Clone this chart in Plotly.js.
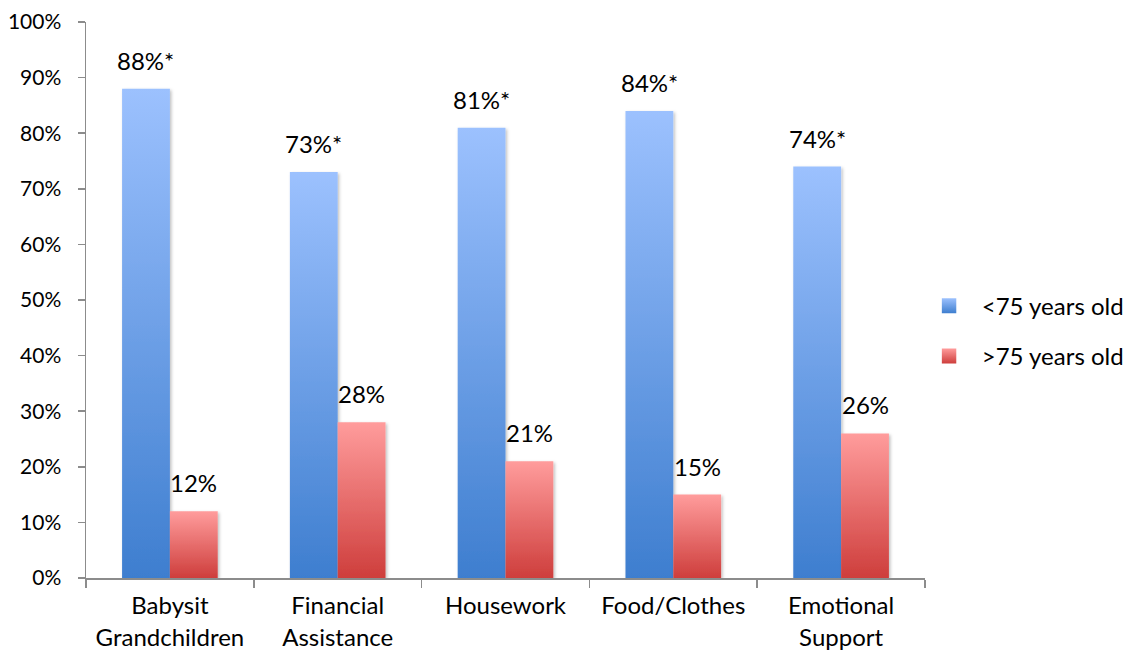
<!DOCTYPE html>
<html>
<head>
<meta charset="utf-8">
<script src="https://cdn.plot.ly/plotly-3.0.1.min.js"></script>
<style>
html,body{margin:0;padding:0;background:#fff;}
#chart{width:1141px;height:658px;}
</style>
</head>
<body>
<div id="chart"></div>
<script>
var categories = ["Babysit<br>Grandchildren", "Financial<br>Assistance", "Housework", "Food/Clothes", "Emotional<br>Support"];
var seriesNames = ["<75 years old", ">75 years old"];
var under75 = [88, 73, 81, 84, 74];
var over75 = [12, 28, 21, 15, 26];
var under75Labels = ["88%*", "73%*", "81%*", "84%*", "74%*"];
var over75Labels = ["12%", "28%", "21%", "15%", "26%"];
var yTickVals = [0, 10, 20, 30, 40, 50, 60, 70, 80, 90, 100];
var yTickText = ["0%", "10%", "20%", "30%", "40%", "50%", "60%", "70%", "80%", "90%", "100%"];

var FONT = "Lato, 'Open Sans', sans-serif";
var FS = 24;
var axisColor = "#8c8c8c";

var traces = [
  {type: "bar", name: seriesNames[0], x: categories, y: under75,
   marker: {color: "#6a9be6"}, legendgroup: "a", hoverinfo: "y"},
  {type: "bar", name: seriesNames[1], x: categories, y: over75,
   marker: {color: "#e87474"}, legendgroup: "b", hoverinfo: "y"}
];

var halfBar = 0.285 / 2;
var annotations = [];
categories.forEach(function(c, i) {
  annotations.push({x: i - halfBar, y: under75[i], xref: "x", yref: "y", text: under75Labels[i],
    showarrow: false, yanchor: "bottom", yshift: 12, font: {family: FONT, size: FS, color: "#000"}});
  annotations.push({x: i + halfBar, y: over75[i], xref: "x", yref: "y", text: over75Labels[i],
    showarrow: false, yanchor: "bottom", yshift: 12, font: {family: FONT, size: FS, color: "#000"}});
});

var layout = {
  width: 1141, height: 658,
  margin: {l: 86, r: 211, t: 22, b: 80, pad: 0},
  paper_bgcolor: "#fff", plot_bgcolor: "#fff",
  barmode: "group", bargap: 0.43, bargroupgap: 0,
  font: {family: FONT, size: FS, color: "#000"},
  showlegend: true,
  legend: {x: 1.020, xanchor: "left", y: 0.444, yanchor: "middle",
    font: {family: FONT, size: FS, color: "#000"}, tracegroupgap: 16,
    itemwidth: 30, bgcolor: "rgba(0,0,0,0)"},
  xaxis: {type: "category", showline: true, linecolor: axisColor, linewidth: 1.5,
    ticks: "outside", tickson: "boundaries", ticklen: 8, tickcolor: axisColor, tickwidth: 1.5,
    showgrid: false, zeroline: false, ticklabelstandoff: 6,
    tickfont: {family: FONT, size: FS, color: "#000"}},
  yaxis: {range: [0, 100], tickmode: "array", tickvals: yTickVals, ticktext: yTickText, showline: true,
    linecolor: axisColor, linewidth: 1.5, ticks: "outside", ticklen: 7, tickcolor: axisColor, tickwidth: 1.5,
    showgrid: false, zeroline: false, ticklabelstandoff: 12,
    tickfont: {family: FONT, size: 21, color: "#000"}},
  annotations: annotations
};

Plotly.newPlot("chart", traces, layout, {displayModeBar: false, staticPlot: true}).then(function(gd) {
  var svg = gd.querySelector(".main-svg");
  var ns = "http://www.w3.org/2000/svg";
  var defs = document.createElementNS(ns, "defs");
  function grad(id, top, bottom) {
    var g = document.createElementNS(ns, "linearGradient");
    g.setAttribute("id", id);
    g.setAttribute("x1", "0"); g.setAttribute("y1", "0");
    g.setAttribute("x2", "0"); g.setAttribute("y2", "1");
    [[0, top], [1, bottom]].forEach(function(s) {
      var st = document.createElementNS(ns, "stop");
      st.setAttribute("offset", s[0]);
      st.setAttribute("stop-color", s[1]);
      g.appendChild(st);
    });
    defs.appendChild(g);
  }
  grad("gradBlue", "#9cc1fe", "#3e7ecf");
  grad("gradRed", "#ff9c9c", "#ce3e3c");
  var f = document.createElementNS(ns, "filter");
  f.setAttribute("id", "barShadow");
  f.setAttribute("x", "-20%"); f.setAttribute("y", "-20%");
  f.setAttribute("width", "140%"); f.setAttribute("height", "140%");
  var ds = document.createElementNS(ns, "feDropShadow");
  ds.setAttribute("dx", "1.5"); ds.setAttribute("dy", "1.5");
  ds.setAttribute("stdDeviation", "1.5");
  ds.setAttribute("flood-color", "#000"); ds.setAttribute("flood-opacity", "0.25");
  f.appendChild(ds);
  defs.appendChild(f);
  svg.insertBefore(defs, svg.firstChild);
  var ids = ["gradBlue", "gradRed"];
  gd.querySelectorAll(".barlayer .trace").forEach(function(t, i) {
    t.querySelectorAll(".point path").forEach(function(p) {
      p.style.fill = "url(#" + ids[i] + ")";
      p.style.filter = "url(#barShadow)";
    });
  });
  gd.querySelectorAll(".legend .traces").forEach(function(t, i) {
    t.querySelectorAll(".legendpoints path").forEach(function(p) {
      p.style.fill = "url(#" + ids[i] + ")";
      p.setAttribute("d", "M7.5,7.5H-7.5V-7.5H7.5Z");
      p.setAttribute("transform", "translate(7,0)");
    });
  });
});
</script>
</body>
</html>
